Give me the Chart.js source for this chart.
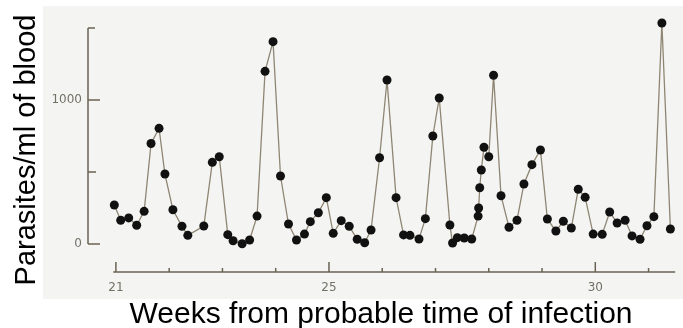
<!DOCTYPE html>
<html lang="en">
  <head>
    <meta charset="UTF-8" />
    <title>Parasitaemia by week</title>
    <script src="https://cdn.jsdelivr.net/npm/chart.js"></script>
    <style>
      html,
      body {
        margin: 0;
        padding: 0;
        background: #ffffff;
      }
      .chart-box {
        position: relative;
        width: 683px;
        height: 328px;
      }
    </style>
  </head>
  <body>
    <div class="chart-box">
      <canvas id="parasiteChart" width="683" height="328"></canvas>
    </div>

    <script>
      // weeks since probable infection (x) and parasites/ml (y)
      const weeks = [
        20.97, 21.09, 21.24, 21.39, 21.53, 21.66, 21.81, 21.92, 22.07, 22.24,
        22.35, 22.65, 22.81, 22.94, 23.1, 23.2, 23.37, 23.51, 23.65, 23.8,
        23.95, 24.09, 24.24, 24.39, 24.54, 24.65, 24.8, 24.95, 25.08, 25.23,
        25.38, 25.53, 25.67, 25.79, 25.95, 26.09, 26.26, 26.4, 26.52, 26.69,
        26.81, 26.95, 27.07, 27.27, 27.32, 27.41, 27.54, 27.68, 27.8, 27.81,
        27.83, 27.86, 27.91, 28.0, 28.09, 28.23, 28.38, 28.53, 28.66, 28.81,
        28.97, 29.1, 29.26, 29.4, 29.55, 29.68, 29.81, 29.96, 30.13, 30.27,
        30.41, 30.56, 30.69, 30.84, 30.97, 31.1, 31.25, 31.41,
      ];
      const parasites = [
        271, 165, 181, 130, 227, 698, 803, 486, 238, 123,
        60, 125, 567, 606, 65, 23, 2, 28, 194, 1199,
        1405, 472, 139, 28, 69, 155, 217, 322, 74, 162,
        123, 33, 9, 97, 599, 1139, 322, 63, 60, 35,
        176, 750, 1014, 132, 7, 44, 42, 35, 194, 250,
        391, 514, 672, 606, 1172, 335, 116, 165, 417, 551,
        653, 174, 90, 158, 111, 380, 324, 69, 67, 222,
        146, 165, 56, 33, 127, 190, 1535, 104,
      ];

      const yTickValues = [0, 500, 1000, 1500];
      const yTickLabels = ["0", "", "1000", ""];
      const xTickValues = [21, 22, 23, 24, 25, 26, 27, 28, 29, 30, 31];
      const xTickLabels = ["21", "", "", "", "25", "", "", "", "", "30", ""];

      const axisColor = "#6a6353";
      const tickTextColor = "#737066";

      // draws the scanned-paper backdrop, the detached axes and the titles
      const paperAxes = {
        id: "paperAxes",
        beforeDraw(chart) {
          const ctx = chart.ctx;
          ctx.save();
          ctx.fillStyle = "#f4f5f3";
          ctx.fillRect(43, 6, 640, 293);
          ctx.restore();
        },
        afterDatasetsDraw(chart) {
          const ctx = chart.ctx;
          const x = chart.scales.x;
          const y = chart.scales.y;
          const left = chart.chartArea.left;
          const bottom = chart.chartArea.bottom;

          ctx.save();
          ctx.strokeStyle = axisColor;
          ctx.lineWidth = 1.5;

          // y axis spine with inward ticks
          ctx.beginPath();
          ctx.moveTo(left, y.getPixelForValue(0));
          ctx.lineTo(left, y.getPixelForValue(1500));
          yTickValues.forEach((v, i) => {
            const py = y.getPixelForValue(v);
            const len = i === 0 || i === 2 ? 12 : i === 1 ? 8 : 7;
            ctx.moveTo(left, py);
            ctx.lineTo(left + len, py);
          });
          ctx.stroke();

          // x axis, offset below the zero line
          ctx.beginPath();
          ctx.moveTo(x.getPixelForValue(20.95), bottom);
          ctx.lineTo(x.getPixelForValue(31.5), bottom);
          xTickValues.forEach((v, i) => {
            const px = x.getPixelForValue(v);
            const len = xTickLabels[i] ? 10 : 4;
            ctx.moveTo(px, bottom);
            ctx.lineTo(px, bottom - len);
          });
          ctx.stroke();

          // tick labels
          ctx.fillStyle = tickTextColor;
          ctx.font = "12px 'DejaVu Sans'";
          ctx.textAlign = "right";
          ctx.textBaseline = "middle";
          yTickValues.forEach((v, i) => {
            if (yTickLabels[i]) {
              ctx.fillText(yTickLabels[i], left - 6, y.getPixelForValue(v));
            }
          });
          ctx.textAlign = "center";
          xTickValues.forEach((v, i) => {
            if (xTickLabels[i]) {
              ctx.fillText(xTickLabels[i], x.getPixelForValue(v), bottom + 16);
            }
          });

          // axis titles
          ctx.fillStyle = "#000000";
          ctx.font = "30px 'Liberation Sans'";
          ctx.textAlign = "center";
          ctx.textBaseline = "alphabetic";
          ctx.fillText("Weeks from probable time of infection", 381, 323);

          ctx.font = "29px 'Liberation Sans'";
          ctx.translate(35, 150);
          ctx.rotate(-Math.PI / 2);
          ctx.fillText("Parasites/ml of blood", 0, 0);
          ctx.restore();
        },
      };

      new Chart(document.getElementById("parasiteChart"), {
        type: "scatter",
        data: {
          datasets: [
            {
              label: "Parasites/ml of blood",
              data: weeks.map((w, i) => ({ x: w, y: parasites[i] })),
              showLine: true,
              borderColor: "#8f8573",
              borderWidth: 1.3,
              pointRadius: 4.5,
              pointBackgroundColor: "#111111",
              pointBorderWidth: 0,
            },
          ],
        },
        options: {
          responsive: false,
          animation: false,
          layout: {
            padding: { left: 88, right: 3, top: 10, bottom: 56 },
          },
          plugins: {
            legend: { display: false },
            tooltip: { enabled: false },
          },
          scales: {
            x: { type: "linear", display: false, min: 20.476, max: 31.562 },
            y: { type: "linear", display: false, min: -194.4, max: 1625 },
          },
        },
        plugins: [paperAxes],
      });
    </script>
  </body>
</html>
